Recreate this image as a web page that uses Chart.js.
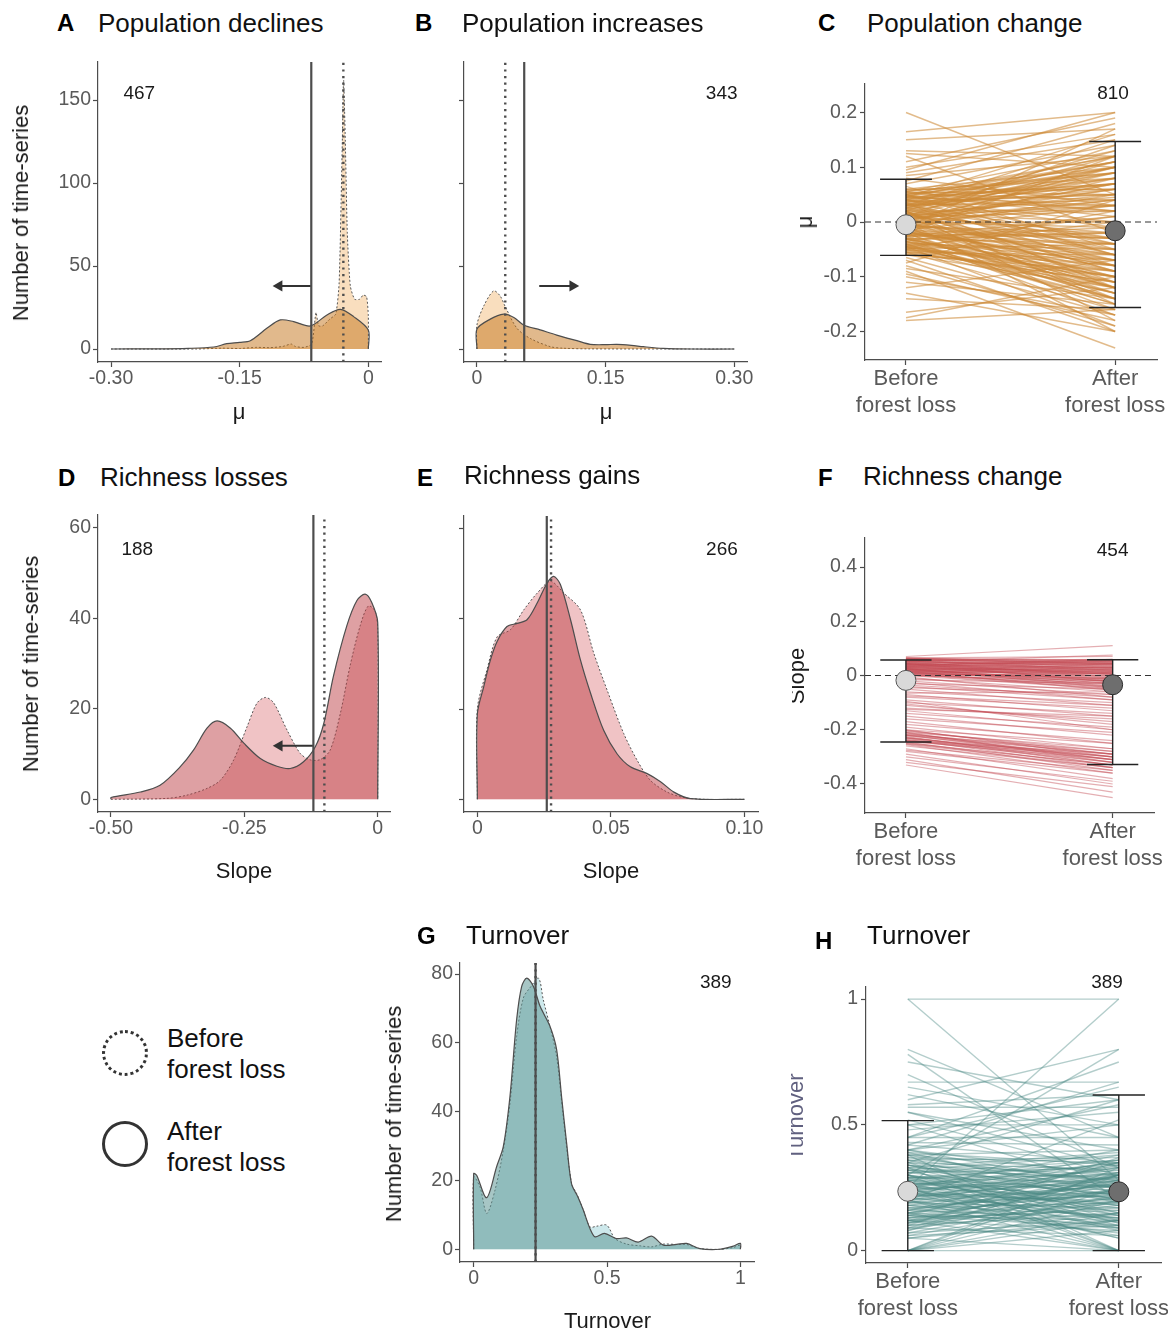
<!DOCTYPE html>
<html>
<head>
<meta charset="utf-8">
<script src="https://cdn.jsdelivr.net/npm/chart.js@4.4.1/dist/chart.umd.min.js"></script>
<style>
  body { margin: 0; width: 1168px; height: 1334px; overflow: hidden; background: #fff;
         font-family: "Liberation Sans", Arial, sans-serif; position: relative; }
  canvas { position: absolute; }
  .lbl { position: absolute; white-space: nowrap; line-height: 1; transform: translateY(-50%); }
  .ctr { transform: translate(-50%, -50%); }
  .rot { transform: translate(-50%, -50%) rotate(-90deg); }
  .letter { font-size: 24px; font-weight: bold; color: #000; }
  .title { font-size: 26px; color: #111; }
  .axt { font-size: 22px; color: #1a1a1a; }
  .leg { font-size: 26px; color: #111; }
  .clip { position: absolute; overflow: hidden; width: 40px; height: 200px; }
  .circ { position: absolute; width: 40px; height: 40px; border-radius: 50%; border: 3px solid #333; }
</style>
</head>
<body>
<canvas id="chartA"></canvas>
<canvas id="chartB"></canvas>
<canvas id="chartC"></canvas>
<canvas id="chartD"></canvas>
<canvas id="chartE"></canvas>
<canvas id="chartF"></canvas>
<canvas id="chartG"></canvas>
<canvas id="chartH"></canvas>

<!-- panel titles -->
<div class="lbl letter" style="left:57px;top:23px">A</div>
<div class="lbl title" style="left:98px;top:22.5px">Population declines</div>
<div class="lbl letter" style="left:415px;top:23px">B</div>
<div class="lbl title" style="left:462px;top:22.5px">Population increases</div>
<div class="lbl letter" style="left:818px;top:23px">C</div>
<div class="lbl title" style="left:867px;top:22.5px">Population change</div>
<div class="lbl letter" style="left:58px;top:478px">D</div>
<div class="lbl title" style="left:100px;top:477px">Richness losses</div>
<div class="lbl letter" style="left:417px;top:478px">E</div>
<div class="lbl title" style="left:464px;top:475px">Richness gains</div>
<div class="lbl letter" style="left:818px;top:478px">F</div>
<div class="lbl title" style="left:863px;top:476px">Richness change</div>
<div class="lbl letter" style="left:417px;top:936px">G</div>
<div class="lbl title" style="left:466px;top:935px">Turnover</div>
<div class="lbl letter" style="left:815px;top:941px">H</div>
<div class="lbl title" style="left:867px;top:935px">Turnover</div>

<!-- axis titles -->
<div class="lbl axt rot" style="left:20.7px;top:213px">Number of time-series</div>
<div class="lbl axt rot" style="left:30.7px;top:664px">Number of time-series</div>
<div class="lbl axt rot" style="left:394px;top:1114px">Number of time-series</div>
<div class="lbl axt rot" style="left:805px;top:222px">μ</div>
<div class="clip" style="left:792px;top:576px"><div class="lbl axt rot" style="left:5.4px;top:100px">Slope</div></div>
<div class="clip" style="left:791px;top:1017px"><div class="lbl axt rot" style="left:5.4px;top:100px;color:#60607f">Turnover</div></div>
<div class="lbl axt ctr" style="left:239px;top:412px">μ</div>
<div class="lbl axt ctr" style="left:606px;top:412px">μ</div>
<div class="lbl axt ctr" style="left:244px;top:871px">Slope</div>
<div class="lbl axt ctr" style="left:611px;top:871px">Slope</div>
<div class="lbl axt ctr" style="left:607.5px;top:1320.5px">Turnover</div>

<!-- legend -->
<div class="circ" style="left:102px;top:1030px;border-style:dotted"></div>
<div class="circ" style="left:102px;top:1121px"></div>
<div class="lbl leg" style="left:167px;top:1038px">Before</div>
<div class="lbl leg" style="left:167px;top:1069px">forest loss</div>
<div class="lbl leg" style="left:167px;top:1131px">After</div>
<div class="lbl leg" style="left:167px;top:1162px">forest loss</div>

<script>
// ---- A: population declines (density of mu) ----
const declBeforeX = [-0.30, -0.20, -0.17, -0.15, -0.13, -0.115, -0.10, -0.09, -0.085, -0.075, -0.066, -0.061, -0.058, -0.053, -0.045, -0.038, -0.034, -0.0305, -0.0288, -0.0268, -0.0245, -0.021, -0.016, -0.01, -0.006, -0.002, 0, 0];
const declBeforeY = [0, 0, 0.5, 0.3, 1, 0.8, 1.5, 3, 1.5, 1, 3, 22, 14, 14, 18, 21, 40, 120, 162, 125, 70, 38, 30, 30, 32.5, 31.5, 20, 0];
const declAfterX = [-0.30, -0.25, -0.21, -0.18, -0.165, -0.15, -0.1376, -0.118, -0.1026, -0.0871, -0.0676, -0.0482, -0.0326, -0.0171, 0, 0];
const declAfterY = [0, 0.1, 0.4, 1.2, 3.2, 4.0, 5, 12.6, 17.5, 16.5, 13.9, 20.5, 23.9, 19.5, 11.4, 0];
const declMeans = [-0.0291, -0.0665];            // before, after
const declArrow = [-0.0665, -0.104, 38];         // from, to, height
// ---- B: population increases ----
const incrBeforeX = [0, 0, 0.008, 0.0194, 0.027, 0.033, 0.0466, 0.062, 0.0856, 0.10, 0.13, 0.30];
const incrBeforeY = [0, 14.5, 26, 35, 32, 25.5, 12.5, 6.4, 1.4, 0.5, 0.1, 0];
const incrAfterX = [0, 0, 0.0155, 0.031, 0.043, 0.0543, 0.0737, 0.093, 0.1165, 0.132, 0.15, 0.163, 0.18, 0.194, 0.217, 0.25, 0.30];
const incrAfterY = [0, 12, 18, 21, 19, 14.5, 11.5, 8.4, 5, 2.8, 2.6, 2.8, 2.2, 1.4, 0.4, 0, 0];
const incrMeans = [0.033, 0.0551];
const incrArrow = [0.0726, 0.1116, 38];
const densTicks = [0, 50, 100, 150];
// ---- C: population change (paired mu) ----
const popBefore = [0.02, -0.01, 0.04, -0.03, 0.00, 0.05, -0.05, 0.01, 0.03, -0.02, 0.06, -0.04, 0.015, -0.015, 0.035, -0.055, 0.025, -0.025, 0.045, -0.035,
  0.005, -0.005, 0.055, -0.045, 0.01, 0.0, 0.03, -0.02, 0.04, -0.01, 0.02, -0.06, 0.05, -0.03, 0.015, -0.04, 0.035, -0.05, 0.025, 0.0,
  -0.015, 0.045, -0.025, 0.06, -0.035, 0.01, -0.005, 0.03, -0.045, 0.02, -0.01, 0.05, -0.02, 0.005, -0.055, 0.04, -0.03, 0.015, 0.0, 0.025,
  -0.04, 0.055, -0.015, 0.035, -0.05, 0.01, -0.025, 0.045, -0.005, 0.02, -0.035, 0.03, -0.045, 0.0, -0.02, 0.05, -0.01, 0.015, -0.06, 0.04,
  0.2, 0.165, 0.13, 0.12, 0.11, 0.1, 0.09, 0.08, 0.075, 0.07, 0.065, 0.125, 0.15, 0.095, 0.085, -0.07, -0.08, -0.09, -0.1, -0.11,
  -0.12, -0.14, -0.165, -0.175, -0.18, -0.065, -0.075, -0.085, -0.095, -0.13, 0.03, -0.01, 0.02, 0.0, 0.045, -0.03, 0.01, -0.045, 0.055, -0.02,
  0.012, -0.018, 0.032, -0.042, 0.052, -0.008, 0.022, -0.028, 0.042, -0.052, 0.008, -0.012, 0.028, -0.038, 0.048, -0.002, 0.018, -0.022, 0.038, -0.048,
  0.003, -0.032, 0.058, -0.058, 0.013, -0.007, 0.033, -0.017, 0.043, -0.043, 0.023, -0.027, 0.053, -0.053, 0.006, -0.003, 0.027, -0.037, 0.037, -0.013,
  0.016, -0.024, 0.046, -0.046, 0.001, 0.031, -0.031, 0.041, -0.041, 0.011, -0.016, 0.036, -0.056, 0.056, -0.006, 0.021, -0.021, 0.049, -0.049, 0.004];
const popAfter = [0.08, -0.09, 0.11, -0.12, 0.03, -0.04, 0.02, -0.14, 0.06, -0.06, 0.1, -0.15, 0.045, -0.03, -0.08, -0.11, 0.13, 0.01, 0.07, -0.1,
  0.09, -0.05, 0.02, -0.13, -0.02, -0.07, 0.04, -0.16, -0.01, 0.05, -0.11, -0.09, 0.12, -0.04, 0.0, -0.08, 0.1, -0.14, -0.06, 0.07,
  -0.12, 0.03, -0.02, 0.06, -0.15, 0.11, -0.1, -0.03, 0.0, 0.02, -0.13, 0.09, -0.07, 0.04, -0.16, 0.08, -0.11, -0.09, -0.01, 0.1,
  -0.05, 0.05, 0.03, -0.12, -0.08, 0.06, -0.14, 0.12, -0.04, -0.15, 0.01, 0.07, -0.1, 0.1, -0.03, -0.06, 0.08, -0.07, -0.12, 0.0,
  0.05, 0.2, 0.12, -0.02, 0.19, 0.16, 0.15, 0.03, 0.18, 0.14, -0.05, 0.1, 0.17, 0.2, 0.12, -0.2, -0.19, -0.23, -0.17, -0.15,
  -0.07, -0.16, -0.12, -0.1, -0.16, -0.17, 0.04, -0.14, -0.18, -0.2, 0.15, 0.17, -0.18, -0.2, 0.16, -0.17, 0.14, -0.19, 0.13, 0.12,
  0.05, -0.08, 0.09, -0.1, 0.04, -0.02, -0.05, -0.13, 0.1, -0.07, 0.02, -0.11, 0.07, -0.06, 0.11, 0.0, -0.09, -0.04, 0.05, -0.12,
  0.06, -0.09, 0.08, -0.1, -0.03, -0.06, 0.03, -0.12, 0.07, -0.14, 0.09, -0.01, 0.06, -0.11, -0.08, 0.04, -0.04, -0.07, 0.11, -0.1,
  0.1, -0.05, 0.02, -0.09, -0.12, 0.08, -0.02, -0.06, -0.13, 0.03, -0.08, 0.05, -0.06, 0.09, -0.03, 0.12, -0.14, 0.01, -0.04, 0.07];
const popErrLow = [-0.061, -0.156];
const popErrHigh = [0.078, 0.147];
const popMeans = [-0.005, -0.016];
const popTicks = [-0.2, -0.1, 0, 0.1, 0.2];
const popTickLabels = ['-0.2', '-0.1', '0', '0.1', '0.2'];
// ---- D: richness losses (density of slope) ----
const lossBeforeX = [-0.5, -0.395, -0.358, -0.32, -0.295, -0.27, -0.245, -0.226, -0.21, -0.195, -0.17, -0.145, -0.126, -0.107, -0.089, -0.07, -0.052, -0.033, -0.0177, -0.005, 0, 0];
const lossBeforeY = [0, 0.2, 0.9, 2.4, 4.2, 8.7, 16, 21.3, 22.5, 21.3, 15.3, 10.1, 8.7, 8.8, 10.9, 19, 29.4, 38.3, 42.7, 41.6, 37.5, 0];
const lossAfterX = [-0.5, -0.5, -0.445, -0.408, -0.37, -0.345, -0.32, -0.301, -0.276, -0.251, -0.22, -0.189, -0.164, -0.139, -0.117, -0.101, -0.083, -0.058, -0.039, -0.0237, -0.0114, 0, 0];
const lossAfterY = [0, 0.4, 1.6, 3.1, 7.2, 10.9, 15.7, 17.3, 15.7, 12.4, 9, 7.3, 6.8, 8.3, 11.6, 16.8, 27.2, 38.3, 43.9, 45.3, 43.5, 39, 0];
const lossMeans = [-0.100, -0.1206];
const lossArrow = [-0.1206, -0.1845, 11.8];
// ---- E: richness gains ----
const gainBeforeX = [0, 0, 0.0036, 0.0074, 0.0124, 0.0174, 0.0224, 0.0274, 0.0324, 0.0386, 0.0436, 0.0486, 0.0548, 0.0598, 0.0648, 0.0711, 0.0773, 0.085, 0.10];
const gainBeforeY = [0, 20, 28.7, 36, 37.6, 42, 45.7, 48.3, 45.7, 42, 32.4, 24.2, 14.6, 8.7, 4.2, 1.6, 0.4, 0, 0];
const gainAfterX = [0, 0, 0.0024, 0.0049, 0.0074, 0.0111, 0.0149, 0.0186, 0.0224, 0.0261, 0.0286, 0.0311, 0.0349, 0.0386, 0.0424, 0.0473, 0.0523, 0.0573, 0.0636, 0.0686, 0.0736, 0.0798, 0.10];
const gainAfterY = [0, 18.9, 25, 30.9, 35, 38.3, 39, 39.8, 43.5, 47.9, 49.4, 47.6, 39.8, 30.9, 23.5, 15.3, 10.1, 7.2, 5.7, 3.9, 1.6, 0.15, 0];
const gainMeans = [0.0276, 0.026];
const richTicks = [0, 20, 40, 60];
// ---- F: richness change (paired slope) ----
const richBefore = [0.06, 0.05, 0.04, 0.03, 0.02, 0.01, 0.0, 0.055, 0.045, 0.035, 0.025, 0.015, 0.005, 0.065, 0.05, 0.04, 0.03, 0.02, 0.01, 0.0,
  0.06, 0.045, 0.035, 0.025, 0.015, 0.005, 0.055, 0.04, 0.03, 0.02, 0.01, 0.0, 0.065, 0.07, 0.05, 0.035, 0.045, 0.025, 0.015, 0.06,
  -0.01, -0.02, -0.03, -0.04, -0.05, -0.06, -0.07, -0.08, -0.09, -0.1, -0.11, -0.12, -0.13, -0.14, -0.15, -0.16, -0.17, -0.18, -0.19, -0.005,
  -0.015, -0.035, -0.065, -0.095, -0.2, -0.205, -0.21, -0.215, -0.22, -0.225, -0.23, -0.235, -0.24, -0.245, -0.25, -0.255, -0.21, -0.22, -0.23, -0.2,
  -0.24, -0.26, -0.27, -0.28, -0.29, -0.31, -0.33, -0.3, -0.32, -0.275,
  0.062, 0.052, 0.042, 0.032, 0.022, 0.012, 0.002, 0.057, 0.047, 0.037, 0.027, 0.017, 0.007, 0.063, 0.053, 0.043, 0.033, 0.023, 0.013, 0.003,
  0.058, 0.048, 0.038, 0.028, 0.018, 0.008, 0.064, 0.044, 0.034, 0.024,
  -0.202, -0.212, -0.222, -0.232, -0.242, -0.252, -0.218, -0.228, -0.238, -0.248, -0.025, -0.045, -0.075, -0.105, -0.125];
const richAfter = [0.055, 0.04, 0.03, 0.01, 0.0, -0.01, -0.02, 0.06, 0.02, 0.045, -0.03, 0.025, -0.04, 0.05, -0.005, 0.005, 0.035, -0.015, 0.015, -0.05,
  0.03, 0.05, -0.02, 0.02, -0.035, 0.0, 0.015, 0.055, -0.01, 0.04, -0.045, 0.01, 0.07, 0.11, 0.075, 0.06, -0.025, 0.005, -0.055, 0.045,
  -0.06, -0.07, -0.05, -0.09, -0.11, -0.1, -0.13, -0.12, -0.15, -0.14, -0.17, -0.16, -0.2, -0.19, -0.22, -0.21, -0.25, -0.24, -0.27, -0.08,
  -0.03, -0.08, -0.06, -0.2, -0.3, -0.28, -0.32, -0.29, -0.31, -0.33, -0.3, -0.34, -0.32, -0.35, -0.33, -0.36, -0.27, -0.29, -0.31, -0.25,
  -0.3, -0.34, -0.38, -0.36, -0.4, -0.43, -0.45, -0.39, -0.41, -0.35,
  0.058, 0.035, 0.045, 0.015, 0.03, -0.02, -0.03, 0.048, 0.01, 0.052, -0.04, 0.008, -0.012, 0.038, 0.025, -0.008, 0.042, -0.022, 0.032, -0.048,
  0.02, 0.057, -0.015, 0.012, -0.028, 0.022, 0.044, 0.003, 0.027, -0.045,
  -0.29, -0.31, -0.3, -0.33, -0.31, -0.34, -0.28, -0.32, -0.29, -0.33, -0.09, -0.07, -0.11, -0.18, -0.15];
const richErrLow = [-0.245, -0.328];
const richErrHigh = [0.057, 0.058];
const richMeans = [-0.018, -0.034];
const slopeTicks = [-0.4, -0.2, 0, 0.2, 0.4];
const slopeTickLabels = ['-0.4', '-0.2', '0', '0.2', '0.4'];
// ---- G: turnover density ----
const turnBeforeX = [0, 0, 0.024, 0.049, 0.08, 0.111, 0.136, 0.161, 0.186, 0.211, 0.243, 0.261, 0.286, 0.311, 0.336, 0.367, 0.386, 0.411, 0.436, 0.461, 0.499, 0.53, 0.574, 0.624, 0.667, 0.711, 0.761, 0.798, 0.848, 0.923, 0.973, 1, 1];
const turnBeforeY = [0, 21, 18, 10.4, 17.2, 28.8, 42.4, 61.8, 73, 76, 78.8, 72.5, 64.8, 56, 38.5, 19, 16.2, 11.4, 6.5, 6.7, 7, 3.1, 1.5, 1.0, 0.7, 1.5, 1.4, 1.4, 0.2, 0, 0.5, 1.2, 0];
const turnAfterX = [0, 0, 0.011, 0.0487, 0.086, 0.111, 0.136, 0.161, 0.18, 0.199, 0.224, 0.249, 0.286, 0.311, 0.33, 0.349, 0.367, 0.392, 0.411, 0.436, 0.455, 0.49, 0.535, 0.573, 0.617, 0.667, 0.711, 0.761, 0.798, 0.848, 0.923, 0.973, 1, 1];
const turnAfterY = [0, 22, 21.5, 15, 24, 29.8, 44.4, 66.7, 76.4, 78.8, 76.4, 70.6, 64.8, 58, 44, 30.5, 19, 15, 11.4, 6, 3.6, 4.6, 3.1, 3.3, 2.1, 3.8, 1.2, 1.4, 1.7, 0.2, 0, 0.9, 1.7, 0];
const turnMeans = [0.232, 0.232];
const turnCountTicks = [0, 20, 40, 60, 80];
// ---- H: turnover paired ----
const turnPairBefore = [0.1, 0.15, 0.2, 0.25, 0.3, 0.35, 0.4, 0.12, 0.18, 0.22, 0.28, 0.32, 0.05, 0.08, 0.14, 0.24, 0.26, 0.34, 0.38, 0.16,
  0.2, 0.3, 0.27, 0.11, 0.21, 0.36, 0.07, 0.19, 0.29, 0.33, 0.13, 0.23, 0.25, 0.17, 0.31, 0.09, 0.39, 0.15, 0.22, 0.28,
  0.12, 0.35, 0.2, 0.26, 0.06, 0.32, 0.18, 0.24, 0.1, 0.37, 0.14, 0.27, 0.21, 0.3, 0.16, 0.34, 0.23, 0.19, 0.29, 0.25,
  0, 0, 0, 0, 0.2, 0.3, 0.12, 0, 0.05, 0.38, 0.25, 0.15,
  1, 1, 0.8, 0.75, 0.67, 0.6, 0.25, 0.5, 0.45, 0.55, 0.42, 0.48, 0.4, 0.78, 0.7, 0.3, 0.45, 0.58, 0.52, 0.4, 0.65, 0.35, 0.5, 0.43, 0.57, 0.2,
  0.11, 0.16, 0.21, 0.26, 0.31, 0.36, 0.08, 0.13, 0.18, 0.23, 0.28, 0.33, 0.38, 0.06, 0.09, 0.14, 0.19, 0.24, 0.29, 0.34,
  0.39, 0.12, 0.17, 0.22, 0.27, 0.32, 0.37, 0.1, 0.15, 0.2, 0.25, 0.3, 0.35, 0.4, 0.07, 0.13, 0.18, 0.23, 0.28, 0.33,
  0.27, 0.21, 0.16, 0.11, 0.31, 0.36, 0.24, 0.19, 0.14, 0.29, 0.05, 0.09, 0.26, 0.34, 0.38, 0.22, 0.17, 0.12, 0.32, 0.2,
  0, 0, 0.25, 0.15, 0, 0.33, 0.45, 0.55, 0.62, 0.42, 0.5];
const turnPairAfter = [0.2, 0.3, 0.1, 0.35, 0.15, 0.25, 0.3, 0.08, 0.22, 0.28, 0.2, 0.38, 0.15, 0.25, 0.12, 0.18, 0.32, 0.22, 0.4, 0.35,
  0.26, 0.1, 0.24, 0.3, 0.16, 0.28, 0.12, 0.34, 0.27, 0.14, 0.21, 0.05, 0.4, 0.19, 0.33, 0.06, 0.2, 0.27, 0.23, 0.36,
  0.17, 0.12, 0.31, 0.09, 0.2, 0.25, 0.14, 0.29, 0.37, 0.35, 0.24, 0.18, 0.33, 0.22, 0.28, 0.3, 0.13, 0.26, 0.11, 0.21,
  0, 0.15, 0.25, 0.33, 0, 0, 0, 0.08, 0, 0, 0.05, 0.1,
  1, 0.28, 0.45, 0.6, 0.67, 0.8, 1, 0.5, 0.75, 0.4, 0.67, 0.55, 0.5, 0.2, 0.33, 0.8, 0.45, 0.62, 0.3, 0.58, 0.5, 0.6, 0.25, 0.42, 0.57, 0.52,
  0.24, 0.13, 0.29, 0.17, 0.36, 0.19, 0.31, 0.26, 0.09, 0.33, 0.14, 0.28, 0.23, 0.1, 0.18, 0.35, 0.22, 0.12, 0.3, 0.2,
  0.34, 0.28, 0.07, 0.38, 0.21, 0.11, 0.27, 0.15, 0.23, 0.36, 0.26, 0.18, 0.32, 0.25, 0.22, 0.16, 0.3, 0.19, 0.25, 0.39,
  0.08, 0.13, 0.27, 0.19, 0.22, 0.37, 0.31, 0.17, 0.09, 0.34, 0.12, 0.3, 0.35, 0.15, 0.31, 0.2, 0.24, 0.21, 0.29, 0.06,
  0.2, 0.3, 0, 0, 0.12, 0, 0.65, 0.33, 0.45, 0.35, 0.6];
const turnErrLow = [0, 0];
const turnErrHigh = [0.517, 0.619];
const turnPairMeans = [0.236, 0.234];
const turnTicks = [0, 0.5, 1];
const turnTickLabels = ['0', '0.5', '1'];
const catLabels = [['Before', 'forest loss'], ['After', 'forest loss']];

const FONT = '"Liberation Sans", Arial, sans-serif';
Chart.defaults.font.family = FONT;
const Y_W = 80, PAD_T = 20, PAD_R = 45, X_H = 80;

function pts(xs, ys) {
  return xs.map((x, i) => ({ x: x, y: ys[i] }));
}

function place(id, area) {
  const c = document.getElementById(id);
  const w = area[2] - area[0] + Y_W + PAD_R;
  const h = area[3] - area[1] + PAD_T + X_H;
  c.width = w; c.height = h;
  c.style.left = (area[0] - Y_W) + 'px';
  c.style.top = (area[1] - PAD_T) + 'px';
  c.style.width = w + 'px'; c.style.height = h + 'px';
  return c;
}

function axis(range, ticks, labels, isX, tickFont) {
  return {
    type: 'linear', min: range[0], max: range[1],
    afterBuildTicks: s => { s.ticks = ticks.map(v => ({ value: v })); },
    afterFit: s => { if (isX) s.height = X_H; else s.width = Y_W; },
    ticks: {
      callback: (v, i) => labels ? labels[i] : '',
      color: '#5a5a5a', font: tickFont || { size: 19.5 }, padding: isX ? 0 : 2,
      maxRotation: 0, minRotation: 0, autoSkip: false
    },
    grid: { drawOnChartArea: false, drawTicks: true, tickLength: 5, tickColor: '#4d4d4d', tickWidth: 1.2 },
    border: { display: true, color: '#4d4d4d', width: 1.2 }
  };
}

const countPlugin = {
  id: 'countLabel',
  afterDraw(chart, args, opts) {
    const { ctx, scales } = chart;
    ctx.save();
    ctx.font = '19px ' + FONT;
    ctx.fillStyle = '#1a1a1a';
    ctx.textAlign = 'center';
    ctx.textBaseline = 'middle';
    ctx.fillText(opts.text, scales.x.getPixelForValue(opts.x), scales.y.getPixelForValue(opts.y));
    ctx.restore();
  }
};

function baseOptions(scales, count) {
  return {
    responsive: false, animation: false, devicePixelRatio: 1,
    layout: { padding: { left: 0, top: PAD_T, right: PAD_R, bottom: 0 } },
    elements: { point: { radius: 0 }, line: { fill: false } },
    plugins: { legend: { display: false }, tooltip: { enabled: false }, countLabel: count },
    scales: scales
  };
}

function densityChart(id, area, o) {
  const canvas = place(id, area);
  const yMin = o.yRange[0], yMax = o.yRange[1];
  const datasets = [
    { data: [{ x: o.means[1], y: yMin }, { x: o.means[1], y: yMax }], borderColor: '#4d4d4d', borderWidth: 2.2, order: 0 },
    { data: [{ x: o.means[0], y: yMin }, { x: o.means[0], y: yMax }], borderColor: '#4d4d4d', borderWidth: 2.4, borderDash: [2.2, 4.4], order: 0 },
    { data: pts(o.afterX, o.afterY), fill: 'origin', backgroundColor: o.fillAfter, borderColor: '#4d4d4d', borderWidth: 1.2, tension: 0.3, order: 1 },
    { data: pts(o.beforeX, o.beforeY), fill: 'origin', backgroundColor: o.fillBefore, borderColor: '#555', borderWidth: 1, borderDash: [2, 2], tension: o.beforeTension || 0.3, order: 2 }
  ];
  if (o.arrow) {
    datasets.push({
      data: [{ x: o.arrow[0], y: o.arrow[2] }, { x: o.arrow[1], y: o.arrow[2] }],
      borderColor: '#333', borderWidth: 2, pointRadius: [0, 6.5], pointStyle: 'triangle',
      pointRotation: o.arrowDir, pointBackgroundColor: '#333', pointBorderColor: '#333', pointBorderWidth: 0, order: 0
    });
  }
  new Chart(canvas, {
    type: 'line',
    data: { datasets: datasets },
    options: baseOptions({
      x: axis(o.xRange, o.xTicks, o.xLabels, true),
      y: axis(o.yRange, o.yTicks, o.yLabels, false)
    }, o.count),
    plugins: [countPlugin]
  });
}

function pairedChart(id, area, o) {
  const canvas = place(id, area);
  const ds = [{
    data: [{ x: 1, y: o.means[0] }, { x: 2, y: o.means[1] }], showLine: false, pointRadius: 10,
    pointBackgroundColor: ['#d9d9d9', '#6e6e6e'], pointBorderColor: ['#555', '#2b2b2b'], pointBorderWidth: 1, order: 0
  }];
  [0, 1].forEach(i => {
    const cx = i + 1;
    const bar = { borderColor: '#222', borderWidth: 1.4, order: 1 };
    ds.push(Object.assign({ data: [{ x: cx, y: o.errLow[i] }, { x: cx, y: o.errHigh[i] }] }, bar));
    ds.push(Object.assign({ data: [{ x: cx - 0.124, y: o.errHigh[i] }, { x: cx + 0.124, y: o.errHigh[i] }] }, bar));
    ds.push(Object.assign({ data: [{ x: cx - 0.124, y: o.errLow[i] }, { x: cx + 0.124, y: o.errLow[i] }] }, bar));
  });
  if (o.zeroLine) {
    ds.push({ data: [{ x: o.xRange[0], y: 0 }, { x: o.xRange[1], y: 0 }], borderColor: '#333', borderWidth: 1.2, borderDash: [6, 4], order: 2 });
  }
  o.before.forEach((b, i) => {
    ds.push({ data: [{ x: 1, y: b }, { x: 2, y: o.after[i] }], borderColor: o.lineColor, borderWidth: o.lineWidth, order: 3 });
  });
  const xAxis = axis(o.xRange, [1, 2], catLabels, true, { size: 22, lineHeight: 1.2 });
  xAxis.ticks.padding = 1;
  const yAxis = axis(o.yRange, o.yTicks, o.yLabels, false);
  yAxis.ticks.padding = 3;
  new Chart(canvas, {
    type: 'line',
    data: { datasets: ds },
    options: baseOptions({ x: xAxis, y: yAxis }, o.count),
    plugins: [countPlugin]
  });
}

const tanBefore = 'rgb(249,222,190)', tanAfter = 'rgba(195,115,25,0.5)';
const pinkBefore = 'rgb(240,195,197)', pinkAfter = 'rgba(189,65,71,0.5)';
const tealBefore = 'rgb(205,232,235)', tealAfter = 'rgba(95,152,149,0.55)';

densityChart('chartA', [98, 62, 381, 362], {
  xRange: [-0.3152, 0.0148], yRange: [-7.83, 172.9],
  xTicks: [-0.30, -0.15, 0], xLabels: ['-0.30', '-0.15', '0'],
  yTicks: densTicks, yLabels: ['0', '50', '100', '150'],
  beforeX: declBeforeX, beforeY: declBeforeY, afterX: declAfterX, afterY: declAfterY, beforeTension: 0.2,
  fillBefore: tanBefore, fillAfter: tanAfter, means: declMeans, arrow: declArrow, arrowDir: -90,
  count: { x: -0.267, y: 153.6, text: '467' }
});
densityChart('chartB', [464, 62, 747, 362], {
  xRange: [-0.0151, 0.3148], yRange: [-7.83, 172.9],
  xTicks: [0, 0.15, 0.30], xLabels: ['0', '0.15', '0.30'],
  yTicks: densTicks, yLabels: null,
  beforeX: incrBeforeX, beforeY: incrBeforeY, afterX: incrAfterX, afterY: incrAfterY,
  fillBefore: tanBefore, fillAfter: tanAfter, means: incrMeans, arrow: incrArrow, arrowDir: 90,
  count: { x: 0.2853, y: 153.6, text: '343' }
});
pairedChart('chartC', [865, 84, 1157, 360], {
  xRange: [0.804, 2.2], yRange: [-0.252, 0.252], yTicks: popTicks, yLabels: popTickLabels,
  before: popBefore, after: popAfter, lineColor: 'rgba(205,137,55,0.58)', lineWidth: 1.5,
  errLow: popErrLow, errHigh: popErrHigh, means: popMeans, zeroLine: true,
  count: { x: 1.99, y: 0.2336, text: '810' }
});
densityChart('chartD', [98, 515, 390, 812], {
  xRange: [-0.5243, 0.023], yRange: [-2.81, 62.8],
  xTicks: [-0.5, -0.25, 0], xLabels: ['-0.50', '-0.25', '0'],
  yTicks: richTicks, yLabels: ['0', '20', '40', '60'],
  beforeX: lossBeforeX, beforeY: lossBeforeY, afterX: lossAfterX, afterY: lossAfterY,
  fillBefore: pinkBefore, fillAfter: pinkAfter, means: lossMeans, arrow: lossArrow, arrowDir: -90,
  count: { x: -0.4507, y: 55.1, text: '188' }
});
densityChart('chartE', [464, 516, 758, 812], {
  xRange: [-0.005, 0.1051], yRange: [-2.81, 62.8],
  xTicks: [0, 0.05, 0.1], xLabels: ['0', '0.05', '0.10'],
  yTicks: richTicks, yLabels: null,
  beforeX: gainBeforeX, beforeY: gainBeforeY, afterX: gainAfterX, afterY: gainAfterY,
  fillBefore: pinkBefore, fillAfter: pinkAfter, means: gainMeans,
  count: { x: 0.0916, y: 55.3, text: '266' }
});
pairedChart('chartF', [865, 538, 1154, 813], {
  xRange: [0.802, 2.2], yRange: [-0.507, 0.507], yTicks: slopeTicks, yLabels: slopeTickLabels,
  before: richBefore, after: richAfter, lineColor: 'rgba(195,75,85,0.45)', lineWidth: 1.2,
  errLow: richErrLow, errHigh: richErrHigh, means: richMeans, zeroLine: true,
  count: { x: 2.0, y: 0.461, text: '454' }
});
densityChart('chartG', [460, 963, 754, 1262], {
  xRange: [-0.0513, 1.051], yRange: [-3.7, 83.2],
  xTicks: [0, 0.5, 1], xLabels: ['0', '0.5', '1'],
  yTicks: turnCountTicks, yLabels: ['0', '20', '40', '60', '80'],
  beforeX: turnBeforeX, beforeY: turnBeforeY, afterX: turnAfterX, afterY: turnAfterY,
  fillBefore: tealBefore, fillAfter: tealAfter, means: turnMeans,
  count: { x: 0.9075, y: 77.5, text: '389' }
});
pairedChart('chartH', [866, 987, 1161, 1263], {
  xRange: [0.802, 2.2], yRange: [-0.049, 1.048], yTicks: turnTicks, yLabels: turnTickLabels,
  before: turnPairBefore, after: turnPairAfter, lineColor: 'rgba(75,135,132,0.42)', lineWidth: 1.4,
  errLow: turnErrLow, errHigh: turnErrHigh, means: turnPairMeans, zeroLine: false,
  count: { x: 1.944, y: 1.066, text: '389' }
});
</script>
</body>
</html>
